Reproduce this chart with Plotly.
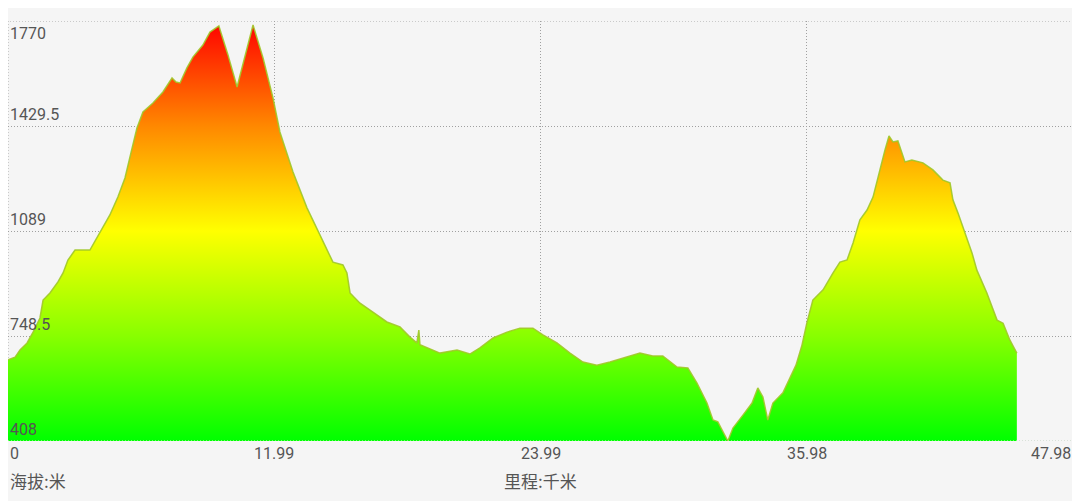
import plotly.graph_objects as go

# Elevation profile (km, metres)
distance_km = [0, 0.32, 0.54, 0.86, 1.13, 1.44, 1.58, 1.89, 2.25, 2.48, 2.70, 3.02, 3.69, 4.14, 4.59,
               4.95, 5.27, 5.59, 5.81, 6.08, 6.53, 6.98, 7.39, 7.57, 7.75, 8.06, 8.33, 8.78, 9.10, 9.50,
               9.91, 10.32, 10.68, 11.04, 11.49, 11.94, 12.25, 12.84, 13.47, 14.05, 14.64, 15.09, 15.27,
               15.41, 15.86, 16.44, 17.07, 17.66, 18.11, 18.42, 18.51, 18.56, 18.87, 19.46, 20.23, 20.81,
               21.26, 21.85, 22.48, 23.06, 23.65, 24.10, 24.73, 25.32, 25.90, 26.53, 27.12, 27.70, 28.47,
               29.05, 29.50, 30.14, 30.63, 31.04, 31.49, 31.76, 31.98, 32.43, 32.66, 33.11, 33.52, 33.78,
               34.01, 34.23, 34.46, 34.91, 35.23, 35.50, 35.77, 35.99, 36.26, 36.72, 37.17, 37.48, 37.80,
               38.07, 38.38, 38.70, 38.97, 39.19, 39.51, 39.69, 39.87, 40.09, 40.41, 40.72, 41.22, 41.67,
               42.12, 42.44, 42.57, 42.80, 43.11, 43.43, 43.65, 44.10, 44.56, 44.83, 45.14, 45.45]
elevation_m = [671, 680, 703, 726, 761, 807, 865, 888, 924, 953, 995, 1027, 1027, 1086, 1141,
               1199, 1261, 1358, 1423, 1475, 1504, 1540, 1585, 1572, 1569, 1618, 1653, 1692, 1734, 1754,
               1660, 1556, 1660, 1757, 1650, 1520, 1410, 1280, 1164, 1076, 988, 979, 953,
               888, 855, 826, 794, 778, 745, 726, 768, 720, 710, 693, 703, 690,
               710, 742, 761, 774, 774, 752, 726, 693, 664, 654, 664, 677, 693,
               684, 684, 648, 645, 596, 531, 476, 470, 408, 450, 492, 531, 580,
               551, 476, 531, 564, 612, 654, 719, 791, 865, 898, 953, 988, 995,
               1050, 1125, 1157, 1199, 1264, 1352, 1397, 1378, 1381, 1313, 1319, 1310, 1287,
               1254, 1245, 1190, 1147, 1083, 1018, 962, 888, 800, 790, 735, 693]

x_ticks = [0, 11.99, 23.99, 35.98, 47.98]
x_tick_labels = ["0", "11.99", "23.99", "35.98", "47.98"]
y_ticks = [408, 748.5, 1089, 1429.5, 1770]
y_tick_labels = ["408", "748.5", "1089", "1429.5", "1770"]
y_title = "海拔:米"
x_title = "里程:千米"

text_color = "#555555"
grid_color = "#a0a0a0"
grid_dash = "1px,2px"

fig = go.Figure()
fig.add_trace(go.Scatter(
    x=distance_km, y=elevation_m, mode="lines",
    line=dict(color="rgba(160,200,40,0.9)", width=1.5),
    fill="tozeroy",
    fillgradient=dict(type="vertical", start=y_ticks[0], stop=y_ticks[-1],
                      colorscale=[[0, "#00ff00"], [0.25, "#88ff00"], [0.5, "#ffff00"],
                                  [0.75, "#ff8800"], [1, "#ff0000"]]),
    hoverinfo="skip", showlegend=False,
))

# dotted frame around the plotting area
fig.add_shape(type="rect", xref="x", yref="y", x0=x_ticks[0], x1=x_ticks[-1],
              y0=y_ticks[0], y1=y_ticks[-1], line=dict(color=grid_color, width=1, dash=grid_dash),
              layer="below")
# bottom dotted line drawn over fill
fig.add_shape(type="line", xref="x", yref="y", x0=x_ticks[0], x1=x_ticks[-1],
              y0=y_ticks[0], y1=y_ticks[0], line=dict(color="rgba(235,255,235,0.9)", width=1, dash=grid_dash),
              layer="above")

annotations = []
for v, t in zip(y_ticks, y_tick_labels):
    annotations.append(dict(x=x_ticks[0], y=v, xref="x", yref="y", text=t, showarrow=False,
                            xanchor="left", yanchor="top" if v == y_ticks[-1] else "bottom",
                            xshift=0, yshift=-1 if v == y_ticks[-1] else 0,
                            font=dict(size=16, color=text_color, family="Roboto")))
for i, (v, t) in enumerate(zip(x_ticks, x_tick_labels)):
    anchor = "left" if i == 0 else ("right" if i == len(x_ticks) - 1 else "center")
    annotations.append(dict(x=v, y=0, xref="x", yref="paper", text=t, showarrow=False,
                            xanchor=anchor, yanchor="top", yshift=-1,
                            font=dict(size=16, color=text_color, family="Roboto")))
annotations.append(dict(x=0, y=0, xref="paper", yref="paper", text=y_title, showarrow=False,
                        xanchor="left", yanchor="top", yshift=-25,
                        font=dict(size=17, color=text_color, family="Noto Sans CJK SC")))
annotations.append(dict(x=x_ticks[2], y=0, xref="x", yref="paper", text=x_title, showarrow=False,
                        xanchor="center", yanchor="top", yshift=-25,
                        font=dict(size=17, color=text_color, family="Noto Sans CJK SC")))

# The page places the figure 8px in from the top-left corner.
fig.update_layout(
    width=1072, height=493,
    margin=dict(l=0, r=7, t=13, b=60),
    paper_bgcolor="#f5f5f5", plot_bgcolor="#f5f5f5",
    annotations=annotations,
    xaxis=dict(range=[x_ticks[0], x_ticks[-1]], tickvals=x_ticks, showticklabels=False,
               showgrid=True, gridcolor=grid_color, griddash=grid_dash, gridwidth=1,
               zeroline=False, showline=False, ticks=""),
    yaxis=dict(range=[y_ticks[0], y_ticks[-1]], tickvals=y_ticks, showticklabels=False,
               showgrid=True, gridcolor=grid_color, griddash=grid_dash, gridwidth=1,
               zeroline=False, showline=False, ticks=""),
)

fig.write_html("out.html")
